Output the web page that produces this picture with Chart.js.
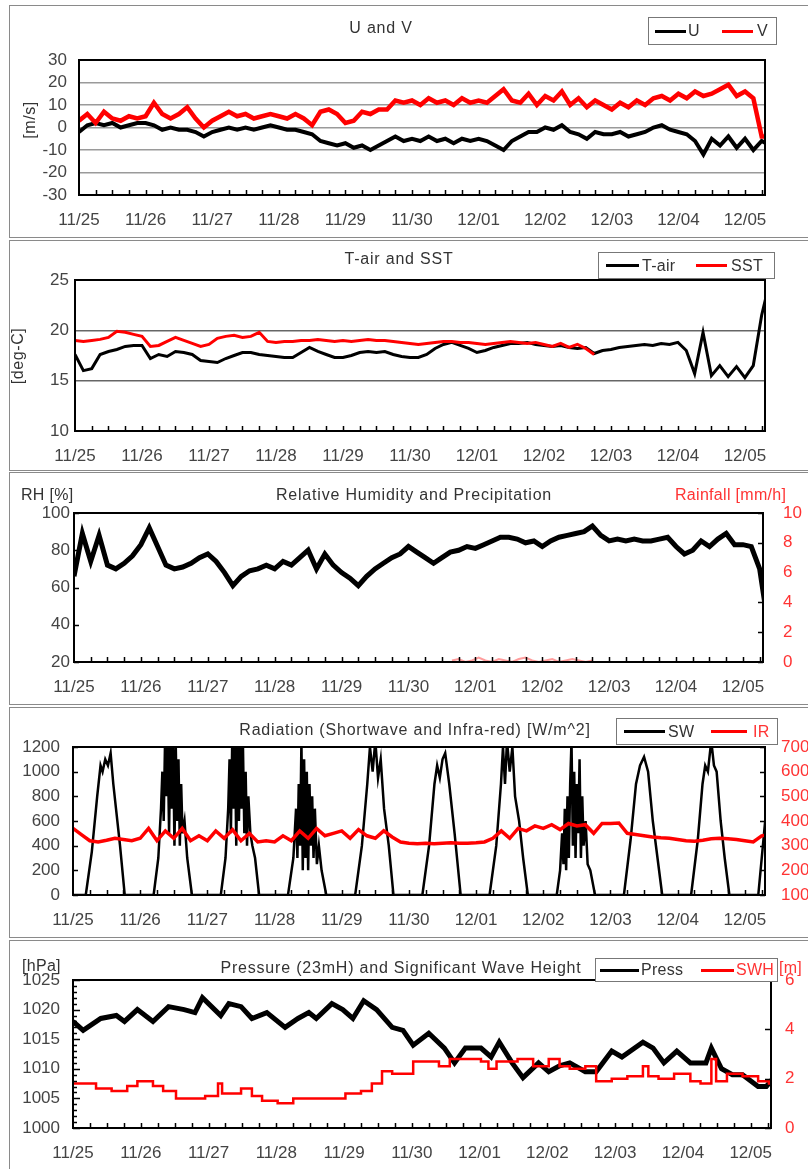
<!DOCTYPE html>
<html>
<head>
<meta charset="utf-8">
<script src="https://cdn.jsdelivr.net/npm/chart.js"></script>
<style>
  body { margin:0; width:808px; height:1169px; overflow:hidden; background:#fff; position:relative;
         font-family:"Liberation Sans", Arial, sans-serif; color:#333; }
  .panel { position:absolute; left:9px; width:815px; border:1px solid #8a8a8a; }
  .panel canvas { position:absolute; left:0; top:0; }
  .t { position:absolute; font-size:16px; letter-spacing:0.8px; white-space:nowrap; transform:translate(-50%,-50%); }
  .l { position:absolute; font-size:16px; letter-spacing:0.3px; white-space:nowrap; transform:translateY(-50%); }
  .r { position:absolute; font-size:16px; letter-spacing:0.6px; white-space:nowrap; transform:translate(-50%,-50%) rotate(-90deg); }
  .box { position:absolute; border:1px solid #777; background:#fff; }
  .ln { position:absolute; height:3px; }
</style>
</head>
<body>

<div class="panel" style="top:5px;height:231px"><canvas id="c1" width="815" height="231"></canvas></div>
<div class="panel" style="top:240px;height:229px"><canvas id="c2" width="815" height="229"></canvas></div>
<div class="panel" style="top:472px;height:231px"><canvas id="c3" width="815" height="231"></canvas></div>
<div class="panel" style="top:707px;height:229px"><canvas id="c4" width="815" height="229"></canvas></div>
<div class="panel" style="top:940px;height:232px"><canvas id="c5" width="815" height="232"></canvas></div>

<script>
  // x axis is days since 11/25 00:00
  const dayLabels = ["11/25","11/26","11/27","11/28","11/29","11/30","12/01","12/02","12/03","12/04","12/05"];
  const step3h = 0.125; // series below are every 3 hours

  // U and V [m/s]
  const uWind = [
    -2, 1, 2, 1, 2, 0, 1, 2,
    2, 1, -1, 0, -1, -1, -2, -4,
    -2, -1, 0, -1, 0, -1, 0, 1,
    0, -1, -1, -2, -3, -6, -7, -8,
    -7, -9, -8, -10, -8, -6, -4, -6,
    -5, -6, -4, -6, -5, -7, -5, -6,
    -5, -6, -8, -10, -6, -4, -2, -2,
    0, -1, 1, -2, -3, -5, -2, -3,
    -3, -2, -4, -3, -2, 0, 1, -1,
    -2, -3, -6, -12, -5, -8, -4, -9,
    -5, -10, -6, -8
  ];
  const vWind = [
    3, 6, 2, 7, 4, 3, 5, 4,
    5, 11, 6, 4, 6, 9, 4, 0,
    3, 5, 7, 5, 6, 4, 5, 6,
    5, 4, 6, 4, 1, 7, 8, 6,
    2, 3, 7, 6, 8, 8, 12, 11,
    12, 10, 13, 11, 12, 10, 13, 11,
    12, 11, 14, 17, 12, 11, 15, 10,
    14, 12, 16, 10, 13, 9, 12, 10,
    8, 11, 9, 12, 10, 13, 14, 12,
    15, 13, 16, 14, 15, 17, 19, 14,
    16, 13, -4, -4
  ];

  // T-air and SST [deg-C]
  const tAir = [
    17.6, 16.0, 16.2, 17.6, 17.9, 18.1, 18.4, 18.5,
    18.5, 17.2, 17.6, 17.4, 17.9, 17.8, 17.6, 17.0,
    16.9, 16.8, 17.2, 17.5, 17.8, 17.8, 17.6, 17.5,
    17.4, 17.3, 17.3, 17.8, 18.3, 17.9, 17.6, 17.3,
    17.3, 17.5, 17.8, 17.9, 17.8, 17.9, 17.6, 17.4,
    17.3, 17.3, 17.6, 18.2, 18.6, 18.8, 18.5, 18.2,
    17.8, 18.0, 18.3, 18.5, 18.7, 18.7, 18.8, 18.6,
    18.5, 18.4, 18.5, 18.3, 18.2, 18.3, 17.7, 18.0,
    18.1, 18.3, 18.4, 18.5, 18.6, 18.5, 18.7, 18.6,
    18.8, 18.0, 15.7, 19.8, 15.5, 16.5, 15.4, 16.4,
    15.3, 16.5, 21.5, 25
  ];
  const sst = [
    19.0, 18.9, 19.0, 19.1, 19.3, 19.9, 19.8, 19.6,
    19.4, 18.4, 18.5, 18.9, 19.3, 19.0, 18.7, 18.4,
    18.6, 19.2, 19.4, 19.5, 19.3, 19.4, 19.8, 18.9,
    18.8, 18.9, 18.9, 19.0, 19.0, 19.1, 19.0, 18.9,
    19.0, 18.9, 19.0, 19.1, 19.0, 19.0, 18.9, 18.8,
    18.7, 18.6, 18.7, 18.8, 18.9, 18.9, 18.8, 18.8,
    18.7, 18.6, 18.7, 18.8, 18.9, 18.8, 18.7, 18.8,
    18.6, 18.4, 18.7, 18.3, 18.6, 18.2, 17.6
  ];

  // Relative humidity [%] and rainfall [mm/h]
  const rh = [
    66, 89, 74, 88, 72, 70, 73, 77,
    83, 92, 82, 72, 70, 71, 73, 76,
    78, 74, 68, 61, 66, 69, 70, 72,
    70, 74, 72, 76, 80, 70, 78, 72,
    68, 65, 61, 66, 70, 73, 76, 78,
    82, 79, 76, 73, 76, 79, 80, 82,
    81, 83, 85, 87, 87, 86, 84, 85,
    82, 85, 87, 88, 89, 90, 93, 88,
    85, 86, 85, 86, 85, 85, 86, 87,
    82, 78, 80, 85, 82, 86, 89, 83,
    83, 82, 70, 40
  ];
  const rainTime = [5.65, 5.75, 5.85, 5.95, 6.05, 6.15, 6.25, 6.35, 6.45, 6.55, 6.65, 6.75, 6.85, 6.95, 7.05, 7.15, 7.25, 7.35, 7.45, 7.55, 7.65, 7.75];
  const rainVal  = [0.1, 0.2, 0, 0.1, 0.3, 0.1, 0, 0.2, 0.1, 0, 0.2, 0.3, 0.1, 0, 0.1, 0.2, 0, 0.1, 0.2, 0.1, 0, 0.1];

  // Radiation [W/m^2]
  const swTime = [
    0, 0.19, 0.28, 0.36, 0.41, 0.44, 0.48, 0.52, 0.56, 0.6, 0.64, 0.7, 0.77,
    1.2, 1.27, 1.31, 1.33, 1.35, 1.37, 1.39, 1.41, 1.43, 1.45, 1.47, 1.49, 1.51, 1.53, 1.55, 1.57, 1.59, 1.61, 1.63, 1.66, 1.7, 1.77,
    2.2, 2.27, 2.31, 2.33, 2.35, 2.37, 2.39, 2.41, 2.43, 2.45, 2.47, 2.49, 2.51, 2.53, 2.55, 2.57, 2.59, 2.61, 2.64, 2.67, 2.71, 2.77,
    3.2, 3.28, 3.32, 3.34, 3.36, 3.38, 3.4, 3.42, 3.44, 3.46, 3.48, 3.5, 3.52, 3.54, 3.56, 3.58, 3.6, 3.63, 3.66, 3.7, 3.77,
    4.2, 4.3, 4.38, 4.42, 4.46, 4.5, 4.54, 4.58, 4.63, 4.7, 4.77,
    5.2, 5.3, 5.38, 5.42, 5.46, 5.5, 5.54, 5.6, 5.68, 5.77,
    6.2, 6.3, 6.37, 6.4, 6.43, 6.46, 6.5, 6.54, 6.58, 6.64, 6.7, 6.77,
    7.2, 7.25, 7.28, 7.3, 7.32, 7.34, 7.36, 7.38, 7.4, 7.42, 7.44, 7.46, 7.48, 7.5, 7.52, 7.54, 7.56, 7.58, 7.6, 7.63, 7.66, 7.7, 7.77,
    8.2, 8.3, 8.38, 8.44, 8.5, 8.56, 8.63, 8.7, 8.77,
    9.2, 9.3, 9.37, 9.41, 9.45, 9.5, 9.54, 9.58, 9.64, 9.7, 9.77,
    10.2, 10.32
  ];
  const swVal = [
    0, 0, 350, 800, 1050, 1000, 1100, 1050, 1150, 900, 700, 400, 0,
    0, 300, 700, 1000, 600, 1250, 800, 1250, 500, 1250, 700, 1250, 400, 1200, 600, 1100, 400, 900, 500, 600, 300, 0,
    0, 300, 700, 1100, 500, 1250, 700, 1250, 400, 1250, 600, 1250, 700, 1200, 500, 1000, 400, 800, 500, 400, 300, 0,
    0, 300, 700, 300, 900, 400, 1250, 200, 1100, 300, 1000, 200, 900, 400, 800, 300, 700, 250, 400, 200, 0,
    0, 400, 900, 1200, 1000, 1250, 950, 1100, 700, 400, 0,
    0, 400, 900, 1050, 950, 1100, 1150, 900, 500, 0,
    0, 400, 900, 1200, 900, 1250, 1000, 1200, 800, 600, 300, 0,
    0, 200, 500, 250, 700, 200, 800, 300, 900, 1250, 400, 1000, 300, 900, 500, 1100, 300, 800, 400, 600, 250, 200, 0,
    0, 450, 900, 1050, 1120, 1000, 600, 300, 0,
    0, 450, 900, 1050, 1000, 1250, 1050, 1000, 600, 300, 0,
    0, 700
  ];
  const irVal = [
    370, 345, 320, 315, 322, 330, 325, 320,
    330, 370, 320, 360, 330, 370, 320, 340,
    320, 360, 330, 365, 320, 350, 315, 320,
    315, 340, 320, 360, 330, 370, 340, 350,
    360, 330, 365, 340, 330, 360, 335, 315,
    310, 308, 310, 308, 310, 312, 310, 310,
    312, 315, 330, 360, 330, 370, 360, 380,
    370, 385, 365, 390, 380, 385, 350, 390,
    390, 392, 350, 345, 340, 335, 332, 330,
    325, 320, 318, 322, 328, 330, 328, 325,
    320, 315, 340, 345
  ];

  // Pressure [hPa] and significant wave height [m]
  const pressTime = [0, 0.15, 0.41, 0.64, 0.76, 0.95, 1.18, 1.41, 1.64, 1.8, 1.91, 2.18, 2.3, 2.48, 2.64, 2.86,
    3.13, 3.32, 3.48, 3.59, 3.82, 3.98, 4.13, 4.29, 4.48, 4.71, 4.87, 5.02, 5.25, 5.48, 5.63, 5.79,
    6.02, 6.17, 6.29, 6.48, 6.64, 6.87, 7.02, 7.18, 7.33, 7.56, 7.72, 7.95, 8.1, 8.41, 8.56, 8.72,
    8.91, 9.11, 9.34, 9.42, 9.57, 9.73, 9.88, 10.11, 10.23, 10.34];
  const pressVal = [1018, 1016.5, 1018.5, 1019, 1018, 1020, 1018, 1020.5, 1020, 1019.5, 1022, 1019, 1021, 1020.5, 1018.5, 1019.5,
    1017, 1018.5, 1019.5, 1018.5, 1021, 1020, 1018.5, 1021.5, 1020, 1017, 1016.5, 1014, 1016, 1013.5, 1011, 1013.5,
    1013.5, 1012, 1014.5, 1011, 1008.5, 1011, 1009.5, 1010.5, 1011, 1009.5, 1009.5, 1013, 1012, 1014.5, 1013.5, 1011,
    1013, 1011, 1011, 1013.5, 1010, 1009, 1009, 1007, 1007, 1008.5];
  const swhTime = [0, 0.34, 0.57, 0.8, 0.95, 1.18, 1.33, 1.52, 1.72, 1.95, 2.1, 2.14, 2.2, 2.34, 2.48, 2.64,
    2.79, 3.02, 3.25, 3.48, 3.78, 4.02, 4.25, 4.41, 4.56, 4.71, 4.87, 5.02, 5.17, 5.4, 5.56, 5.79,
    6.02, 6.13, 6.25, 6.56, 6.79, 7.02, 7.18, 7.33, 7.56, 7.72, 7.95, 8.18, 8.41, 8.49, 8.64, 8.87,
    9.11, 9.26, 9.4, 9.42, 9.49, 9.65, 9.88, 10.11, 10.27, 10.34];
  const swhVal = [1.8, 1.6, 1.5, 1.7, 1.9, 1.7, 1.5, 1.2, 1.2, 1.3, 1.3, 1.8, 1.4, 1.4, 1.6, 1.3,
    1.1, 1.0, 1.2, 1.2, 1.2, 1.4, 1.5, 1.8, 2.3, 2.2, 2.2, 2.7, 2.7, 2.5, 2.8, 2.8,
    2.7, 2.4, 2.7, 2.8, 2.5, 2.8, 2.5, 2.4, 2.5, 1.9, 2.0, 2.1, 2.5, 2.1, 2.0, 2.2,
    1.9, 1.8, 1.8, 2.8, 1.9, 2.2, 2.1, 1.9, 1.8, 0.8];

  const RED = "#ff0000";
  const RED_TXT = "#ff3333";

  Chart.defaults.font.family = '"Liberation Sans", Arial, sans-serif';
  Chart.defaults.font.size = 17;
  Chart.defaults.color = "#444";

  const xy = (ts, vs) => vs.map((v, i) => ({ x: ts[i], y: v }));
  const reg = vs => vs.map((v, i) => ({ x: i * step3h, y: v }));
  const plain = v => String(v);

  // plot frame + small inward ticks
  const frameTicks = {
    id: "frameTicks",
    afterDatasetsDraw(chart, args, opts) {
      const { ctx, chartArea: a, scales } = chart;
      ctx.save();
      ctx.strokeStyle = "#000";
      ctx.lineWidth = 1.5;
      ctx.beginPath();
      for (let v = 0.25; v < scales.x.max; v += 0.25) {
        const px = Math.round(scales.x.getPixelForValue(v)) + 0.5;
        ctx.moveTo(px, a.bottom);
        ctx.lineTo(px, a.bottom - 5);
      }
      (opts.yTicks || []).forEach(t => {
        const s = scales[t.id];
        for (let v = s.min; v <= s.max + 1e-9; v += t.step) {
          const py = Math.round(s.getPixelForValue(v)) + 0.5;
          const x0 = t.right ? a.right : a.left;
          ctx.moveTo(x0, py);
          ctx.lineTo(x0 + (t.right ? -t.len : t.len), py);
        }
      });
      ctx.stroke();
      ctx.lineWidth = 2;
      ctx.strokeRect(a.left, a.top, a.right - a.left, a.bottom - a.top);
      ctx.restore();
    }
  };

  function makePanel(id, top, plot, datasets, yOpt, y2Opt, yTicks) {
    const cv = document.getElementById(id);
    const W = cv.width, H = cv.height, ox = 10, oy = top + 1;
    const scales = {
      x: {
        type: "linear", min: 0, max: 10.3,
        grid: { display: false, drawTicks: false },
        border: { display: false },
        ticks: {
          stepSize: 1, includeBounds: false, autoSkip: false, maxRotation: 0, padding: 15,
          callback: v => Number.isInteger(v) ? dayLabels[v] : ""
        },
        afterFit: s => { s.height = H - (plot.B - oy); }
      },
      y: Object.assign({
        position: "left",
        border: { display: false },
        afterFit: s => { s.width = plot.L - ox; }
      }, yOpt)
    };
    scales.y.ticks = Object.assign({ autoSkip: false, callback: plain }, yOpt.ticks);
    if (y2Opt) {
      scales.y2 = Object.assign({
        position: "right",
        border: { display: false },
        grid: { display: false, drawTicks: false },
        afterFit: s => { s.width = W - (plot.R - ox); }
      }, y2Opt);
      scales.y2.ticks = Object.assign({ autoSkip: false, callback: plain }, y2Opt.ticks);
    }
    return new Chart(cv, {
      type: "line",
      data: { datasets },
      options: {
        responsive: false,
        animation: false,
        layout: { padding: { top: plot.T - oy, left: 0, bottom: 0, right: y2Opt ? 0 : W - (plot.R - ox) } },
        elements: { point: { radius: 0 }, line: { tension: 0 } },
        plugins: { legend: { display: false }, tooltip: { enabled: false }, frameTicks: { yTicks } },
        scales
      },
      plugins: [frameTicks]
    });
  }

  // 1: U and V
  makePanel("c1", 5, { L: 79, R: 765, T: 60, B: 195 }, [
    { label: "V", data: reg(vWind), borderColor: RED, borderWidth: 4.5, order: 0 },
    { label: "U", data: reg(uWind), borderColor: "#000", borderWidth: 4, order: 1 }
  ], {
    min: -30, max: 30,
    ticks: { stepSize: 10, padding: 12 },
    grid: { color: "#9a9a9a", lineWidth: 1.5, drawTicks: false }
  }, null, []);

  // 2: T-air and SST
  makePanel("c2", 240, { L: 75, R: 765, T: 280, B: 431 }, [
    { label: "SST", data: reg(sst), borderColor: RED, borderWidth: 3, order: 0 },
    { label: "T-air", data: reg(tAir), borderColor: "#000", borderWidth: 3, order: 1 }
  ], {
    min: 10, max: 25,
    ticks: { stepSize: 5, padding: 6 },
    grid: { color: "#666", lineWidth: 1.5, drawTicks: false }
  }, null, []);

  // 3: RH and rainfall
  makePanel("c3", 472, { L: 74, R: 763, T: 513, B: 662 }, [
    { label: "Rainfall", data: xy(rainTime, rainVal), borderColor: "rgba(255,60,60,0.5)", borderWidth: 2, yAxisID: "y2", order: 0 },
    { label: "RH", data: reg(rh), borderColor: "#000", borderWidth: 5, order: 1 }
  ], {
    min: 20, max: 100,
    ticks: { stepSize: 20, padding: 4 },
    grid: { display: false, drawTicks: false }
  }, {
    min: 0, max: 10,
    ticks: { stepSize: 2, padding: 20, color: RED_TXT }
  }, [{ id: "y", step: 20, len: 5 }, { id: "y2", step: 2, len: 5, right: true }]);

  // 4: Radiation
  makePanel("c4", 707, { L: 73, R: 765, T: 747, B: 895 }, [
    { label: "IR", data: reg(irVal), borderColor: RED, borderWidth: 3.5, yAxisID: "y2", order: 0 },
    { label: "SW", data: xy(swTime, swVal), borderColor: "#000", borderWidth: 2.5, order: 1 }
  ], {
    min: 0, max: 1200,
    ticks: { stepSize: 200, padding: 13 },
    grid: { display: false, drawTicks: false }
  }, {
    min: 100, max: 700,
    ticks: { stepSize: 100, padding: 16, color: RED_TXT }
  }, [{ id: "y", step: 200, len: 5 }, { id: "y2", step: 100, len: 5, right: true }]);

  // 5: Pressure and SWH
  makePanel("c5", 940, { L: 73, R: 771, T: 980, B: 1128 }, [
    { label: "SWH", data: xy(swhTime, swhVal), borderColor: RED, borderWidth: 2.5, stepped: true, yAxisID: "y2", order: 0 },
    { label: "Press", data: xy(pressTime, pressVal), borderColor: "#000", borderWidth: 5, order: 1 }
  ], {
    min: 1000, max: 1025,
    ticks: { stepSize: 5, padding: 13 },
    grid: { display: false, drawTicks: false }
  }, {
    min: 0, max: 6,
    ticks: { stepSize: 2, padding: 14, color: RED_TXT }
  }, [{ id: "y", step: 1, len: 4 }, { id: "y", step: 5, len: 7 }, { id: "y2", step: 2, len: 6, right: true }]);

  // titles, axis names and legends as page text
  function addText(cls, txt, x, y, color) {
    const d = document.createElement("div");
    d.className = cls;
    d.textContent = txt;
    d.style.left = x + "px";
    d.style.top = y + "px";
    if (color) d.style.color = color;
    document.body.appendChild(d);
  }
  function addLegend(box, items) {
    const b = document.createElement("div");
    b.className = "box";
    Object.assign(b.style, { left: box.l + "px", top: box.t + "px", width: box.w + "px", height: box.h + "px" });
    document.body.appendChild(b);
    const cy = box.t + box.h / 2 + 1;
    items.forEach(it => {
      const ln = document.createElement("div");
      ln.className = "ln";
      Object.assign(ln.style, { left: it.x1 + "px", width: (it.x2 - it.x1) + "px", top: (cy - 1.5) + "px", background: it.color });
      document.body.appendChild(ln);
      addText("l", it.text, it.tx, cy, it.tcolor);
    });
  }

  addText("t", "U and V", 381, 28);
  addText("t", "T-air and SST", 399, 259);
  addText("t", "Relative Humidity and Precipitation", 414, 495);
  addText("t", "Radiation (Shortwave and Infra-red) [W/m^2]", 415, 730);
  addText("t", "Pressure (23mH) and Significant Wave Height", 401, 968);

  addText("r", "[m/s]", 30, 120);
  addText("r", "[deg-C]", 18, 356);
  addText("l", "RH [%]", 21, 495);
  addText("l", "Rainfall [mm/h]", 675, 495, RED_TXT);
  addText("l", "[hPa]", 22, 966);
  addText("l", "[m]", 779, 968, RED_TXT);

  addLegend({ l: 648, t: 17, w: 127, h: 26 }, [
    { x1: 655, x2: 686, color: "#000", text: "U", tx: 688 },
    { x1: 722, x2: 753, color: RED, text: "V", tx: 757 }
  ]);
  addLegend({ l: 598, t: 252, w: 175, h: 25 }, [
    { x1: 606, x2: 639, color: "#000", text: "T-air", tx: 642 },
    { x1: 696, x2: 727, color: RED, text: "SST", tx: 731 }
  ]);
  addLegend({ l: 616, t: 718, w: 160, h: 25 }, [
    { x1: 624, x2: 665, color: "#000", text: "SW", tx: 668 },
    { x1: 711, x2: 747, color: RED, text: "IR", tx: 753, tcolor: RED_TXT }
  ]);
  addLegend({ l: 595, t: 958, w: 181, h: 22 }, [
    { x1: 600, x2: 639, color: "#000", text: "Press", tx: 641 },
    { x1: 701, x2: 734, color: RED, text: "SWH", tx: 736, tcolor: RED_TXT }
  ]);
</script>
</body>
</html>
